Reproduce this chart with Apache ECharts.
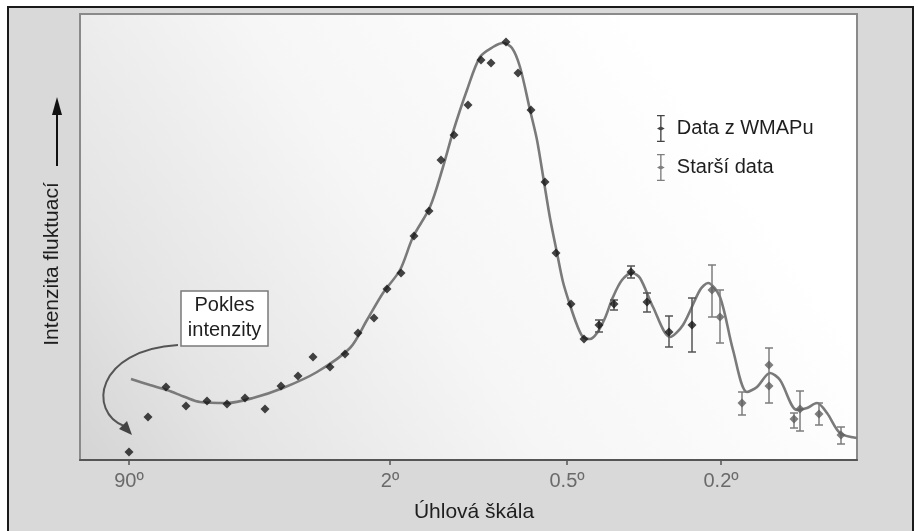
<!DOCTYPE html>
<html>
<head>
<meta charset="utf-8">
<script src="https://cdn.jsdelivr.net/npm/echarts@6/dist/echarts.min.js"></script>
<style>
  html, body { margin: 0; padding: 0; background: #fff; }
  #chart { width: 918px; height: 531px; }
</style>
</head>
<body>
<div id="chart"></div>
<script>
// x = position along the angular scale axis, y = fluctuation intensity (arbitrary units)
const tickPos = [49, 310, 487, 641];
const tickLabels = ['90º', '2º', '0.5º', '0.2º'];

// WMAP data
const wmapX = [49, 68, 86, 106, 127, 147, 165, 185, 201, 218, 233, 250, 265, 278, 294, 307, 321, 334, 349, 361, 374, 388, 401, 411, 426, 438, 451, 465, 476, 491, 504, 519, 534, 551, 567, 589, 612];
const wmapY = [8, 43, 73, 54, 59, 56, 62, 51, 74, 84, 103, 93, 106, 127, 142, 171, 187, 224, 249, 300, 325, 355, 400, 397, 418, 387, 350, 278, 207, 156, 121, 135, 156, 188, 158, 128, 135];
const wmapErrX = [519, 534, 551, 567, 589, 612];
const wmapErrLow = [128, 150, 182, 148, 113, 108];
const wmapErrHigh = [140, 160, 194, 167, 144, 162];

// older data
const oldX = [632, 640, 662, 689, 689, 714, 720, 739, 761];
const oldY = [170, 143, 57, 95, 74, 41, 51, 46, 25];
const oldErrX = [632, 640, 662, 689, 714, 720, 739, 761];
const oldErrLow = [143, 117, 45, 57, 32, 29, 35, 16];
const oldErrHigh = [195, 170, 68, 112, 47, 69, 57, 33];

// model curve
const curveX = [51, 70, 87, 105, 120, 147, 173, 203, 237, 270, 287, 303, 320, 333, 350, 363, 373, 387, 400, 413, 423, 432, 440, 450, 457, 464, 470, 477, 483, 490, 497, 503, 510, 517, 525, 533, 542, 552, 560, 573, 590, 603, 620, 628, 640, 653, 667, 677, 690, 700, 717, 727, 737, 747, 760, 777];
const curveY = [81, 75, 70, 63, 58, 57, 62, 72, 88, 112, 140, 167, 190, 223, 253, 293, 328, 370, 403, 413, 417, 412, 393, 350, 320, 278, 242, 207, 178, 155, 135, 123, 121, 127, 142, 163, 180, 187, 182, 153, 123, 135, 170, 177, 163, 110, 68, 73, 87, 80, 50, 52, 57, 47, 27, 22];

const FONT = 'Liberation Sans, Arial, sans-serif';

const zip = (a, b) => a.map((v, i) => [v, b[i]]);
const zip3 = (a, b, c) => a.map((v, i) => [v, b[i], c[i]]);

const errRenderer = color => (params, api) => {
  const x = api.value(0);
  const p1 = api.coord([x, api.value(1)]);
  const p2 = api.coord([x, api.value(2)]);
  const w = 4;
  const style = { stroke: color, lineWidth: 1.5 };
  return {
    type: 'group',
    children: [
      { type: 'line', shape: { x1: p1[0], y1: p1[1], x2: p2[0], y2: p2[1] }, style },
      { type: 'line', shape: { x1: p1[0] - w, y1: p1[1], x2: p1[0] + w, y2: p1[1] }, style },
      { type: 'line', shape: { x1: p2[0] - w, y1: p2[1], x2: p2[0] + w, y2: p2[1] }, style }
    ]
  };
};

const legendIcon = 'path://M1,0H9V1.4H5.7V12.3L9,14L5.7,15.7V26.6H9V28H1V26.6H4.3V15.7L1,14L4.3,12.3V1.4H1Z';

const chart = echarts.init(document.getElementById('chart'));

chart.setOption({
  animation: false,
  backgroundColor: '#fff',
  textStyle: { fontFamily: FONT },
  grid: {
    left: 80, top: 14, right: 61, bottom: 71,
    show: true,
    borderColor: '#8a8a8a',
    borderWidth: 2,
    backgroundColor: {
      type: 'linear', x: 0, y: 1, x2: 0.75, y2: 0.1,
      colorStops: [
        { offset: 0, color: '#d4d4d4' },
        { offset: 0.2, color: '#e4e4e4' },
        { offset: 0.55, color: '#f6f6f6' },
        { offset: 1, color: '#ffffff' }
      ]
    }
  },
  legend: {
    orient: 'vertical',
    left: 652, top: 110,
    itemWidth: 10, itemHeight: 27, itemGap: 12,
    selectedMode: false,
    textStyle: { fontSize: 20, color: '#1e1e1e', fontFamily: FONT, padding: [0, 0, 0, 6] },
    data: [
      { name: 'Data z WMAPu', icon: legendIcon },
      { name: 'Starší data', icon: legendIcon }
    ]
  },
  xAxis: {
    type: 'value', min: 0, max: 777,
    splitLine: { show: false },
    axisLine: { lineStyle: { color: '#555', width: 2 } },
    axisTick: { customValues: tickPos, length: 5, lineStyle: { color: '#555', width: 1.5 } },
    axisLabel: {
      customValues: tickPos,
      formatter: v => tickLabels[tickPos.indexOf(v)],
      fontSize: 20, color: '#6a6a6a', fontFamily: FONT, margin: 11
    }
  },
  yAxis: {
    type: 'value', min: 0, max: 446,
    splitLine: { show: false },
    axisLine: { show: true, lineStyle: { color: '#8a8a8a', width: 2 } },
    axisTick: { show: false },
    axisLabel: { show: false }
  },
  series: [
    {
      name: 'Model', type: 'line', data: zip(curveX, curveY),
      smooth: 0.3, symbol: 'none', z: 3,
      lineStyle: { color: '#7a7a7a', width: 2.6 }
    },
    {
      name: 'Chyby WMAP', type: 'custom', data: zip3(wmapErrX, wmapErrLow, wmapErrHigh),
      renderItem: errRenderer('#555'), z: 4
    },
    {
      name: 'Chyby starší', type: 'custom', data: zip3(oldErrX, oldErrLow, oldErrHigh),
      renderItem: errRenderer('#7c7c7c'), z: 4
    },
    {
      name: 'Data z WMAPu', type: 'scatter', data: zip(wmapX, wmapY),
      symbol: 'diamond', symbolSize: 9, z: 5,
      itemStyle: { color: '#151515' }
    },
    {
      name: 'Starší data', type: 'scatter', data: zip(oldX, oldY),
      symbol: 'diamond', symbolSize: 9, z: 5,
      itemStyle: { color: '#5e5e5e' }
    }
  ],
  graphic: [
    {
      type: 'rect', z: -100, silent: true,
      shape: { x: 8, y: 7, width: 905, height: 540 },
      style: { fill: '#d9d9d9', stroke: '#1a1a1a', lineWidth: 2 }
    },
    {
      type: 'text', x: 52, y: 264, rotation: Math.PI / 2, silent: true,
      style: { text: 'Intenzita fluktuací', fontSize: 21, fill: '#1e1e1e', fontFamily: FONT, align: 'center', verticalAlign: 'middle' }
    },
    {
      type: 'line', silent: true,
      shape: { x1: 57, y1: 166, x2: 57, y2: 112 },
      style: { stroke: '#111', lineWidth: 2 }
    },
    {
      type: 'polygon', silent: true,
      shape: { points: [[57, 97], [52, 115], [62, 115]] },
      style: { fill: '#111' }
    },
    {
      type: 'text', x: 474, y: 512, silent: true,
      style: { text: 'Úhlová škála', fontSize: 21, fill: '#1e1e1e', fontFamily: FONT, align: 'center', verticalAlign: 'middle' }
    },
    {
      type: 'rect', silent: true, z: 10,
      shape: { x: 181, y: 291, width: 87, height: 55 },
      style: { fill: '#fff', stroke: '#7a7a7a', lineWidth: 1.5 }
    },
    {
      type: 'text', x: 224.5, y: 318, silent: true, z: 11,
      style: { text: 'Pokles\nintenzity', fontSize: 20, lineHeight: 25, fill: '#1e1e1e', fontFamily: FONT, align: 'center', verticalAlign: 'middle' }
    },
    {
      type: 'bezierCurve', silent: true, z: 10,
      shape: { x1: 178, y1: 345, cpx1: 95, cpy1: 350, cpx2: 88, cpy2: 412, x2: 124, y2: 426 },
      style: { stroke: '#555', lineWidth: 2, fill: null }
    },
    {
      type: 'polygon', silent: true, z: 10,
      shape: { points: [[132, 435], [127, 421], [119, 429]] },
      style: { fill: '#444' }
    }
  ]
});
</script>
</body>
</html>
